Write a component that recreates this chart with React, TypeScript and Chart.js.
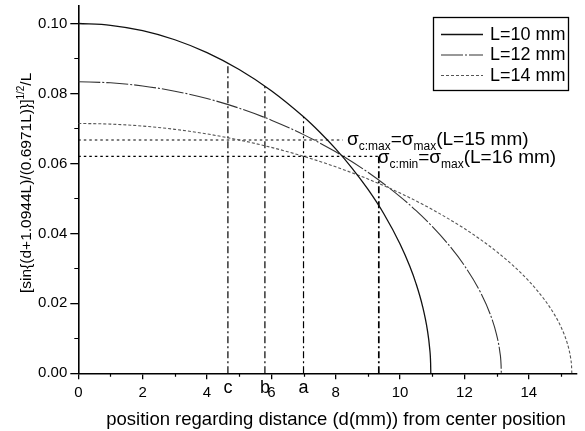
import React, { useEffect, useRef } from 'react';
import { Chart, registerables } from 'chart.js';

Chart.register(...registerables);

// Normalised stress profile for three specimen lengths
const D_L10 = [0, 1, 2, 3, 4, 5, 6, 7, 7.5, 8, 8.5, 9, 9.5, 10, 10.3, 10.5, 10.7, 10.85, 10.92, 10.95, 10.956];
const Y_L10 = [0.1, 0.09949, 0.09795, 0.09535, 0.09167, 0.08684, 0.08078, 0.07332, 0.06897, 0.06414, 0.05874, 0.05262, 0.04554, 0.03697, 0.03065, 0.02557, 0.01916, 0.01233, 0.00719, 0.00293, 0];

const D_L12 = [0, 1, 2, 3, 4, 5, 6, 7, 8, 9, 10, 10.5, 11, 11.5, 12, 12.5, 12.8, 13.0, 13.1, 13.14, 13.147];
const Y_L12 = [0.08333, 0.08304, 0.08215, 0.08065, 0.07854, 0.07579, 0.07237, 0.06823, 0.06331, 0.05748, 0.05051, 0.04649, 0.04199, 0.03686, 0.03081, 0.02316, 0.01697, 0.01105, 0.00625, 0.00241, 0];

const D_L14 = [0, 1, 2, 3, 4, 5, 6, 7, 8, 9, 10, 11, 12, 12.5, 13, 13.5, 14, 14.5, 14.8, 15.0, 15.2, 15.3, 15.33, 15.339];
const Y_L14 = [0.07143, 0.07124, 0.07068, 0.06974, 0.06842, 0.0667, 0.06458, 0.06203, 0.05903, 0.05555, 0.05152, 0.04684, 0.04137, 0.03825, 0.0348, 0.03091, 0.02641, 0.02092, 0.01677, 0.0133, 0.00851, 0.00449, 0.00211, 0];

const SERIES_LABELS = ['L=10 mm', 'L=12 mm', 'L=14 mm'];

const X_TICKS = [0, 2, 4, 6, 8, 10, 12, 14];
const X_MINOR = [1, 3, 5, 7, 9, 11, 13, 15];
const Y_TICKS = [0, 0.02, 0.04, 0.06, 0.08, 0.1];
const Y_MINOR = [0.01, 0.03, 0.05, 0.07, 0.09];

// Marked positions a, b, c (dash-dot drop lines up to the L=10 curve)
const MARK_D = [4.65, 5.8, 7.0];
const MARK_TOP = [0.0887, 0.0821, 0.0733];
const MARK_LABELS = ['c', 'b', 'a'];

// Stress levels for L=15 mm and L=16 mm
const SIGMA_LEVELS = [0.0667, 0.062];
const SIGMA_ENDS = [8.22, 9.34];
const SIGMA_SUBS = ['c:max', 'c:min'];
const SIGMA_L = ['(L=15 mm)', '(L=16 mm)'];
const CROSS_D = 9.34;

const FONT = '"Liberation Sans", Arial, Helvetica, sans-serif';

const zip = (xs: number[], ys: number[]) => xs.map((x, i) => ({ x, y: ys[i] }));

type Run = { text: string; size: number; dy: number };

function drawRuns(ctx: CanvasRenderingContext2D, x: number, y: number, runs: Run[]) {
  for (const r of runs) {
    ctx.font = `${r.size}px ${FONT}`;
    ctx.fillText(r.text, x, y + r.dy);
    x += ctx.measureText(r.text).width;
  }
}

const decorPlugin = {
  id: 'decor',
  afterDraw(chart: any) {
    const ctx: CanvasRenderingContext2D = chart.ctx;
    const xs = chart.scales.x;
    const ys = chart.scales.y;
    const area = chart.chartArea;
    ctx.save();
    ctx.fillStyle = '#000';
    ctx.strokeStyle = '#000';

    // minor ticks
    ctx.lineWidth = 1.2;
    ctx.beginPath();
    for (const v of X_MINOR) {
      const px = Math.round(xs.getPixelForValue(v)) + 0.5;
      ctx.moveTo(px, area.bottom);
      ctx.lineTo(px, area.bottom + 3.5);
    }
    for (const v of Y_MINOR) {
      const py = Math.round(ys.getPixelForValue(v)) + 0.5;
      ctx.moveTo(area.left, py);
      ctx.lineTo(area.left - 4, py);
    }
    ctx.stroke();

    // letters under the drop lines
    ctx.font = `18px ${FONT}`;
    ctx.textAlign = 'center';
    ctx.textBaseline = 'alphabetic';
    MARK_D.forEach((d, i) => {
      ctx.fillText(MARK_LABELS[i], xs.getPixelForValue(d), area.bottom + 19.5);
    });

    // sigma annotations
    ctx.textAlign = 'left';
    const starts = [8.35, 9.31];
    const drops = [5, 6.5];
    SIGMA_LEVELS.forEach((lvl, i) => {
      const x0 = xs.getPixelForValue(starts[i]);
      const y0 = ys.getPixelForValue(lvl) + drops[i];
      drawRuns(ctx, x0, y0, [
        { text: '\u03c3', size: 19, dy: 0 },
        { text: SIGMA_SUBS[i], size: 12, dy: 5 },
        { text: '=\u03c3', size: 19, dy: 0 },
        { text: 'max', size: 12, dy: 5 },
        { text: SIGMA_L[i], size: 19, dy: 0 },
      ]);
    });

    // legend box
    const bx = 433.5, by = 17.5, bw = 135, bh = 73;
    ctx.lineWidth = 1.3;
    ctx.strokeRect(bx, by, bw, bh);
    const rows = [34, 54.5, 75];
    chart.data.datasets.slice(0, 3).forEach((ds: any, i: number) => {
      ctx.save();
      ctx.strokeStyle = ds.borderColor;
      ctx.lineWidth = ds.borderWidth;
      ctx.setLineDash(ds.borderDash || []);
      ctx.beginPath();
      ctx.moveTo(441, rows[i] + 0.5);
      ctx.lineTo(483, rows[i] + 0.5);
      ctx.stroke();
      ctx.restore();
      ctx.font = `18px ${FONT}`;
      ctx.textBaseline = 'middle';
      ctx.fillText(SERIES_LABELS[i], 490, rows[i] + 1);
    });

    // axis titles
    ctx.textBaseline = 'alphabetic';
    ctx.textAlign = 'center';
    ctx.font = `18.5px ${FONT}`;
    ctx.fillText('position regarding distance (d(mm)) from center position', 336, 425);

    ctx.save();
    ctx.translate(31, 293);
    ctx.rotate(-Math.PI / 2);
    ctx.textAlign = 'left';
    drawRuns(ctx, 0, 0, [
      { text: '[sin{(d+1.0944L)/(0.6971L)}]', size: 15.5, dy: 0 },
      { text: '1/2', size: 10, dy: -7 },
      { text: '/L', size: 15.5, dy: 0 },
    ]);
    ctx.restore();

    ctx.restore();
  },
};

export default function App() {
  const canvasRef = useRef<HTMLCanvasElement | null>(null);

  useEffect(() => {
    const canvas = canvasRef.current;
    if (!canvas) return;

    const curve = (label: string, xs: number[], ys: number[], color: string, dash: number[], width: number) => ({
      label,
      data: zip(xs, ys),
      borderColor: color,
      borderWidth: width,
      borderDash: dash,
      pointRadius: 0,
      fill: false,
      cubicInterpolationMode: 'monotone' as const,
    });

    const segment = (pts: { x: number; y: number }[], dash: number[], width: number) => ({
      label: '',
      data: pts,
      borderColor: '#000',
      borderWidth: width,
      borderDash: dash,
      pointRadius: 0,
      fill: false,
      tension: 0,
    });

    const datasets: any[] = [
      curve(SERIES_LABELS[0], D_L10, Y_L10, '#111', [], 1.3),
      curve(SERIES_LABELS[1], D_L12, Y_L12, '#333', [22, 2, 2, 2], 1.1),
      curve(SERIES_LABELS[2], D_L14, Y_L14, '#555', [3, 2], 1.1),
      ...MARK_D.map((d, i) => segment([{ x: d, y: 0 }, { x: d, y: MARK_TOP[i] }], [7, 3, 2, 3], 1.2)),
      segment([{ x: CROSS_D, y: 0 }, { x: CROSS_D, y: SIGMA_LEVELS[1] }], [7, 3, 2, 3], 1.7),
      ...SIGMA_LEVELS.map((lvl, i) => segment([{ x: 0, y: lvl }, { x: SIGMA_ENDS[i], y: lvl }], [2.5, 3], 1.2)),
    ];

    const tickFont = { family: FONT, size: 15 };

    const chart = new Chart(canvas, {
      type: 'line',
      data: { datasets },
      options: {
        animation: false,
        responsive: false,
        devicePixelRatio: 1,
        layout: { padding: { left: 0, top: 6, right: 8, bottom: 0 } },
        plugins: { legend: { display: false }, tooltip: { enabled: false }, title: { display: false } },
        scales: {
          x: {
            type: 'linear',
            min: 0,
            max: 15.5,
            afterBuildTicks: (s: any) => {
              s.ticks = X_TICKS.map((v) => ({ value: v }));
            },
            afterFit: (s: any) => {
              s.height = 57.7;
              s.paddingLeft = 0;
              s.paddingRight = 0;
            },
            grid: { display: true, drawOnChartArea: false, drawTicks: true, tickLength: 6, color: '#000', lineWidth: 1.3 },
            border: { display: true, color: '#000', width: 1.6 },
            ticks: { color: '#000', font: tickFont, padding: 5, maxRotation: 0, autoSkip: false, callback: (v: any) => String(v) },
          },
          y: {
            type: 'linear',
            min: 0,
            max: 0.105,
            afterBuildTicks: (s: any) => {
              s.ticks = Y_TICKS.map((v) => ({ value: v }));
            },
            afterFit: (s: any) => {
              s.width = 78.3;
              s.paddingTop = 0;
              s.paddingBottom = 0;
            },
            grid: { display: true, drawOnChartArea: false, drawTicks: true, tickLength: 8, color: '#000', lineWidth: 1.3 },
            border: { display: true, color: '#000', width: 1.6 },
            ticks: { color: '#000', font: tickFont, padding: 3, autoSkip: false, callback: (v: any) => Number(v).toFixed(2) },
          },
        },
      },
      plugins: [decorPlugin],
    });

    return () => chart.destroy();
  }, []);

  return (
    <div style={{ position: 'absolute', left: 0, top: 0, width: 585, height: 431, background: '#fff' }}>
      <canvas ref={canvasRef} width={585} height={431} style={{ display: 'block' }} />
    </div>
  );
}
